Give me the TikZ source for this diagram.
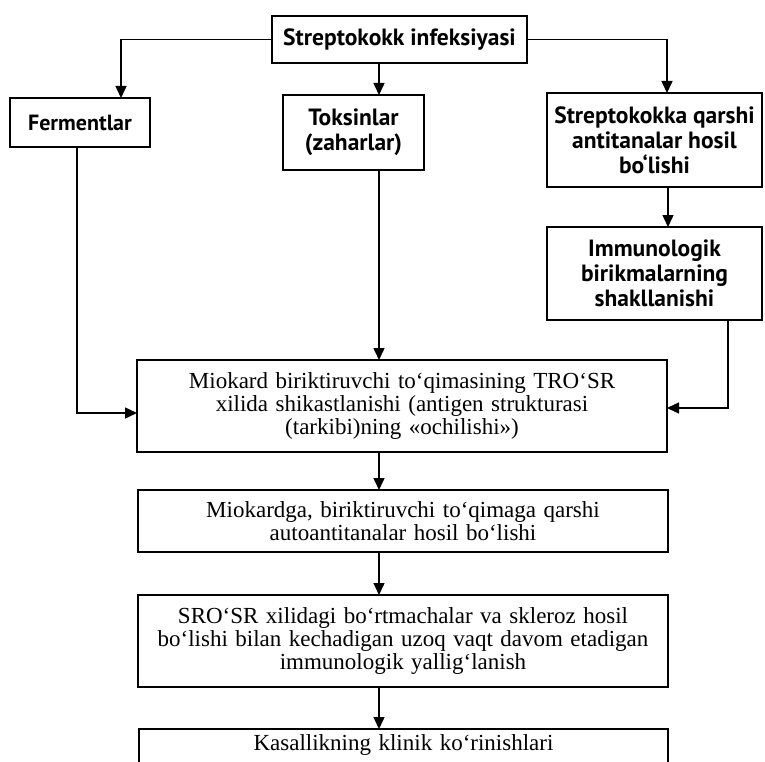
\documentclass[tikz,border=0pt]{standalone}
\usepackage{fontspec}
\setmainfont{Liberation Serif}[WordSpace=1.3]
\newfontfamily\headfont{PT Sans}
\usetikzlibrary{arrows.meta}

\tikzset{
  box/.style={draw, line width=2.6pt, rectangle, inner sep=0pt, outer sep=0pt, align=center},
  headbox/.style={box, font=\headfont\bfseries\fontsize{23.5}{25}\selectfont},
  bodybox/.style={box, font=\fontsize{23}{23}\selectfont},
  arr/.style={line width=1.5pt, -{Triangle[length=12pt,width=11pt]}}
}

\begin{document}
\begin{tikzpicture}[x=1pt,y=-1pt]
\useasboundingbox (0,0) rectangle (765,762);
\clip (0,0) rectangle (765,762);

% upper row
\node[headbox, minimum width=255, minimum height=47] (inf) at (399.5,39.5) {Streptokokk infeksiyasi};
\node[headbox, font=\headfont\bfseries\fontsize{22}{25}\selectfont, minimum width=140, minimum height=49] (ferm) at (80,122.5) {Fermentlar};
\node[headbox, minimum width=141, minimum height=75] (toks) at (353.5,132.5) {Toksinlar\\(zaharlar)};
\node[headbox, minimum width=215, minimum height=94] (strep) at (654.5,140) {Streptokokka qarshi\\antitanalar hosil\\bo‘lishi};
\node[headbox, minimum width=215, minimum height=93] (imm) at (654.5,273.5) {Immunologik\\birikmalarning\\shakllanishi};

% central chain
\node[bodybox, minimum width=530, minimum height=92] (main) at (402,406) {Miokard biriktiruvchi to‘qimasining TRO‘SR\\xilida shikastlanishi (antigen strukturasi\\(tarkibi)ning «ochilishi»)};
\node[bodybox, minimum width=530, minimum height=62] (auto) at (403,521) {Miokardga, biriktiruvchi to‘qimaga qarshi\\autoantitanalar hosil bo‘lishi};
\node[bodybox, minimum width=530, minimum height=92] (infl) at (403,641) {SRO‘SR xilidagi bo‘rtmachalar va skleroz hosil\\bo‘lishi bilan kechadigan uzoq vaqt davom etadigan\\immunologik yallig‘lanish};
\node[bodybox, minimum width=529, anchor=north, inner ysep=6pt, text depth=40pt] (clin) at (403.5,729) {Kasallikning klinik ko‘rinishlari};

\coordinate (spine) at (379,0);

% branches from the infection box
\draw[arr] (inf.west) -| ([xshift=41pt]ferm.north);
\draw[arr] (inf.south -| spine) -- (toks.north -| spine);
\draw[arr] (inf.east) -| ([xshift=12.5pt]strep.north);
\draw[arr] ([xshift=13.5pt]strep.south) -- ([xshift=13.5pt]imm.north);

% inputs into the damage box
\draw[arr] ([xshift=-3pt]ferm.south) |- ([yshift=-7pt]main.west);
\draw[arr] (toks.south -| spine) -- (main.north -| spine);
\draw[arr] ([xshift=73.5pt]imm.south) |- ([yshift=-2pt]main.east);

% downward chain
\draw[arr] (main.south -| spine) -- (auto.north -| spine);
\draw[arr] (auto.south -| spine) -- (infl.north -| spine);
\draw[arr] (infl.south -| spine) -- (clin.north -| spine);
\end{tikzpicture}
\end{document}
